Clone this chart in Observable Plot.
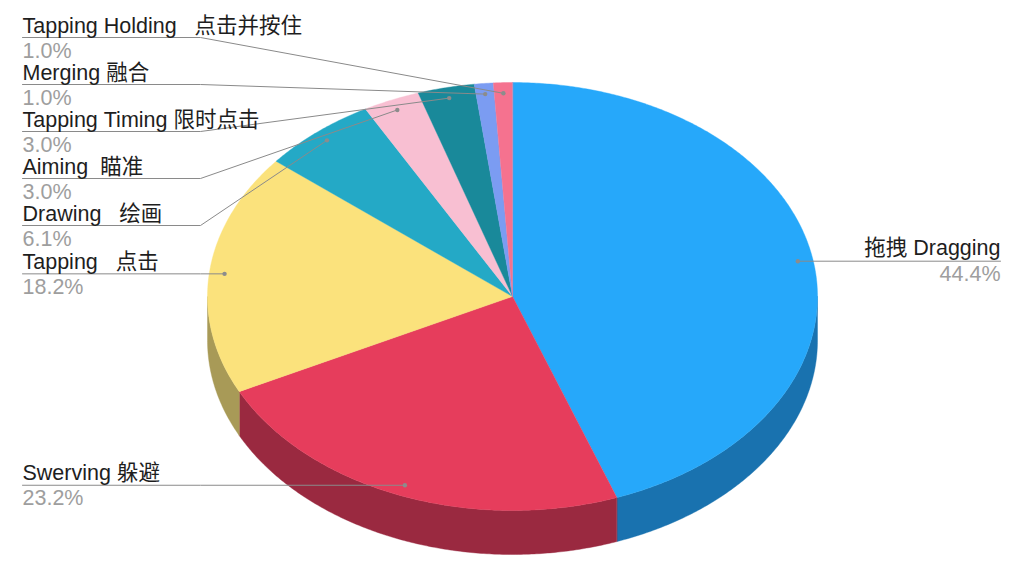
<!DOCTYPE html>
<html>
<head>
<meta charset="utf-8">
<script src="https://cdn.jsdelivr.net/npm/d3@7"></script>
<script src="https://cdn.jsdelivr.net/npm/@observablehq/plot@0.6"></script>
<style>
html, body { margin: 0; padding: 0; background: #fff; }
svg text { white-space: pre; }
</style>
</head>
<body>
<div id="chart"></div>
<script>
// ---- data (clockwise from 12 o'clock) ----
const categories = ["拖拽 Dragging", "Swerving 躲避", "Tapping   点击", "Drawing   绘画", "Aiming  瞄准", "Tapping Timing 限时点击", "Merging 融合", "Tapping Holding   点击并按住"];
const shares = [44.4, 23.2, 18.2, 6.1, 3.0, 3.0, 1.0, 1.0];
const shareLabels = ["44.4%", "23.2%", "18.2%", "6.1%", "3.0%", "3.0%", "1.0%", "1.0%"];
const sliceColors = ["#26a8fa", "#e63d5c", "#fbe27c", "#24a9c6", "#f8bfd2", "#19899a", "#7b9cf2", "#f5728f"];

// ---- layout ----
const W = 1022, H = 562;
const cx = 512, cy = 296, rx = 305, ry = 214, depth = 44;
const total = d3.sum(shares);
const TAU = Math.PI * 2;

const pt = (a, dz = 0) => [cx + rx * Math.sin(a), cy - ry * Math.cos(a) + dz];
function arc(a0, a1, dz = 0) {
  const n = Math.max(2, Math.ceil(Math.abs(a1 - a0) / (Math.PI / 360)));
  const out = [];
  for (let k = 0; k <= n; k++) out.push(pt(a0 + (a1 - a0) * k / n, dz));
  return out;
}

let cum = 0;
const slices = shares.map((v, i) => {
  const a0 = TAU * cum / total;
  cum += v;
  const a1 = TAU * cum / total;
  return {i, a0, a1, mid: (a0 + a1) / 2};
});

const darken = (c) => { const r = d3.rgb(c); return d3.rgb(r.r * 0.67, r.g * 0.68, r.b * 0.7).formatHex(); };

// side walls (front half only)
const sides = [];
for (const s of slices) {
  const a = Math.max(s.a0, Math.PI / 2), b = Math.min(s.a1, Math.PI * 1.5);
  if (a < b) {
    const ring = [...arc(a, b, 0), ...arc(b, a, depth)];
    ring.push(ring[0]);
    sides.push({type: "Feature", properties: {fill: darken(sliceColors[s.i])}, geometry: {type: "Polygon", coordinates: [ring]}});
  }
}
// top faces
const tops = slices.map(s => {
  const ring = [[cx, cy], ...arc(s.a0, s.a1, 0), [cx, cy]];
  return {type: "Feature", properties: {fill: sliceColors[s.i]}, geometry: {type: "Polygon", coordinates: [ring]}};
});

// label anchors
const anchors = slices.map(s => {
  const [x, y] = [cx + 0.95 * rx * Math.sin(s.mid), cy - 0.95 * ry * Math.cos(s.mid)];
  return {i: s.i, x, y, right: s.mid < Math.PI};
});

// left label stacking
const spacing = 47, topY = 37, leftX = 22, bendX = 200, rightX = 1000;
const left = anchors.filter(d => !d.right).sort((a, b) => b.y - a.y);
let prev = Infinity;
for (const d of left) { d.ly = Math.min(prev - spacing, d.y); prev = d.ly; }
left.reverse();
prev = -Infinity;
for (const d of left) { d.ly = Math.max(d.ly, prev + spacing, topY); prev = d.ly; }
const right = anchors.filter(d => d.right);
for (const d of right) d.ly = d.y;

const leaders = anchors.map(d => ({
  type: "Feature",
  geometry: {type: "LineString", coordinates: d.right
    ? [[d.x, d.y], [rightX, d.ly]]
    : [[leftX, d.ly], [bendX, d.ly], [d.x, d.y]]}
}));

const font = "'Liberation Sans', Arial, 'Noto Sans CJK SC', sans-serif";
const nb = s => s.replace(/ /g, "\u00a0");

function labelMarks(data, x, anchor, dyName) {
  return [
    Plot.text(data, {
      x: () => x,
      y: d => d.ly - dyName,
      text: d => nb(categories[d.i]),
      textAnchor: anchor,
      lineAnchor: "bottom",
      fontSize: 21.5,
      fontFamily: font,
      fill: "#1e1e1e"
    }),
    Plot.text(data, {
      x: () => x,
      y: d => d.ly + 20,
      text: d => shareLabels[d.i],
      textAnchor: anchor,
      lineAnchor: "bottom",
      fontSize: 21.5,
      fontFamily: font,
      fill: "#9e9e9e"
    })
  ];
}

const chart = Plot.plot({
  width: W,
  height: H,
  margin: 0,
  projection: {type: "identity"},
  color: {type: "identity"},
  marks: [
    Plot.geo(sides, {fill: d => d.properties.fill, stroke: d => d.properties.fill, strokeWidth: 0.4}),
    Plot.geo(tops, {fill: d => d.properties.fill, stroke: d => d.properties.fill, strokeWidth: 0.4}),
    Plot.geo(leaders, {stroke: "#8a8a8a", strokeWidth: 1, fill: "none"}),
    Plot.dot(anchors, {x: "x", y: "y", r: 2.2, fill: "#8c8c8c", stroke: "none"}),
    ...labelMarks(left, leftX, "start", 5),
    ...labelMarks(right, rightX, "end", 6)
  ]
});
document.getElementById("chart").appendChild(chart);
</script>
</body>
</html>
